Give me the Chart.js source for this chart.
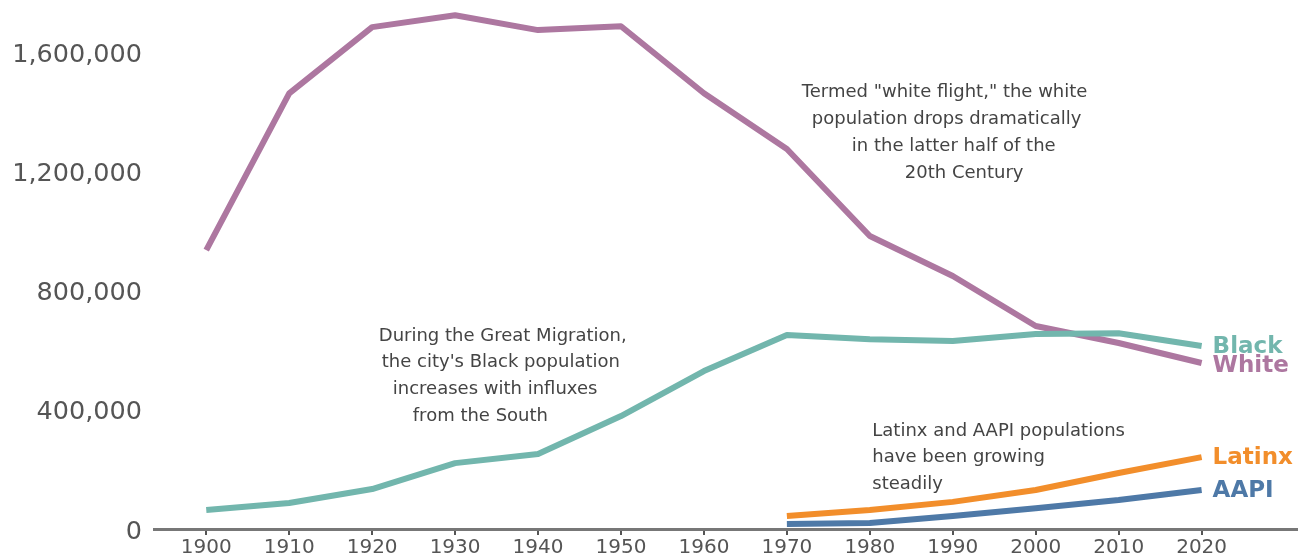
<!DOCTYPE html>
<html>
<head>
<meta charset="utf-8">
<script src="https://cdn.jsdelivr.net/npm/chart.js@4"></script>
<style>
  body { margin: 0; background: #fff; }
  #wrap { width: 1307px; height: 558px; }
</style>
</head>
<body>
<div id="wrap"><canvas id="popChart" width="1307" height="558"></canvas></div>
<script>
const years = [1900, 1910, 1920, 1930, 1940, 1950, 1960, 1970, 1980, 1990, 2000, 2010, 2020];
const whitePop = [936000, 1462000, 1684000, 1724000, 1674000, 1687000, 1462000, 1275000, 983000, 849000, 681000, 624000, 557000];
const blackPop = [64000, 87000, 134000, 221000, 252000, 379000, 530000, 651000, 637000, 631000, 654000, 657000, 614000];
const latinxPop = [null, null, null, null, null, null, null, 44000, 64000, 91000, 131000, 188000, 241000];
const aapiPop = [null, null, null, null, null, null, null, 17000, 20000, 44000, 70000, 97000, 131000];
const yTicks = [0, 400000, 800000, 1200000, 1600000];

const seriesNames = ['Black', 'White', 'Latinx', 'AAPI'];
const seriesColors = ['#72b6ad', '#ad77a0', '#f28e2b', '#4e79a7'];

const notes = [
    { year: 1971.8, value: 1467000, dx: [0, 10, 50, 103],
      lines: ['Termed "white flight," the white', 'population drops dramatically', 'in the latter half of the', '20th Century'] },
    { year: 1920.8, value: 651000, dx: [0, 3, 14, 34],
      lines: ['During the Great Migration,', "the city's Black population", 'increases with influxes', 'from the South'] },
    { year: 1980.3, value: 332000, dx: [0, 0, 0],
      lines: ['Latinx and AAPI populations', 'have been growing', 'steadily'] }
];

function toPoints(vals) {
    return years.map((yr, i) => ({ x: yr, y: vals[i] }));
}

const allSeries = [blackPop, whitePop, latinxPop, aapiPop];

// labels at the line ends + text notes
const labelPlugin = {
    id: 'labelPlugin',
    afterDatasetsDraw(chart) {
        const ctx = chart.ctx;
        const xs = chart.scales.x, ys = chart.scales.y;
        ctx.save();
        ctx.textBaseline = 'middle';
        ctx.textAlign = 'left';
        ctx.font = 'bold 23px "DejaVu Sans"';
        allSeries.forEach((vals, i) => {
            const last = vals.length - 1;
            const px = xs.getPixelForValue(years[last]) + 11;
            let py = ys.getPixelForValue(vals[last]);
            if (seriesNames[i] === 'White') py += 2;
            ctx.fillStyle = seriesColors[i];
            ctx.fillText(seriesNames[i], px, py + 1);
        });

        ctx.font = '18px "DejaVu Sans"';
        ctx.fillStyle = '#444';
        notes.forEach(n => {
            const x0 = xs.getPixelForValue(n.year);
            const y0 = ys.getPixelForValue(n.value);
            n.lines.forEach((t, j) => {
                ctx.fillText(t, x0 + n.dx[j], y0 + 1 + j * 26.7);
            });
        });
        ctx.restore();
    }
};

new Chart(document.getElementById('popChart'), {
    type: 'line',
    data: {
        datasets: allSeries.map((vals, i) => ({
            label: seriesNames[i],
            data: toPoints(vals),
            borderColor: seriesColors[i],
            borderWidth: 6,
            borderCapStyle: 'butt',
            borderJoinStyle: 'round',
            pointRadius: 0,
            tension: 0,
            fill: false
        }))
    },
    options: {
        responsive: false,
        animation: false,
        layout: { padding: { left: 0, right: 10, top: 0, bottom: 0 } },
        plugins: { legend: { display: false }, tooltip: { enabled: false } },
        scales: {
            x: {
                type: 'linear',
                min: 1893.7,
                max: 2031.5,
                afterBuildTicks: s => { s.ticks = years.map(v => ({ value: v })); },
                afterFit: s => { s.height = 29; },
                grid: { display: true, drawOnChartArea: false, drawTicks: true, tickLength: 6, color: '#555', lineWidth: 2 },
                border: { display: true, color: '#777', width: 3 },
                ticks: {
                    color: '#555',
                    font: { family: 'DejaVu Sans', size: 20 },
                    padding: 1,
                    maxRotation: 0,
                    autoSkip: false,
                    callback: v => String(v)
                }
            },
            y: {
                min: 0,
                max: 1775000,
                afterBuildTicks: s => { s.ticks = yTicks.map(v => ({ value: v })); },
                afterFit: s => { s.width = 154; s.paddingTop = 0; s.paddingBottom = 0; },
                grid: { display: false, drawTicks: false },
                border: { display: false },
                ticks: {
                    color: '#555',
                    font: { family: 'DejaVu Sans', size: 25.5 },
                    padding: 12,
                    labelOffset: 3,
                    callback: v => v.toLocaleString('en-US')
                }
            }
        }
    },
    plugins: [labelPlugin]
});
</script>
</body>
</html>
